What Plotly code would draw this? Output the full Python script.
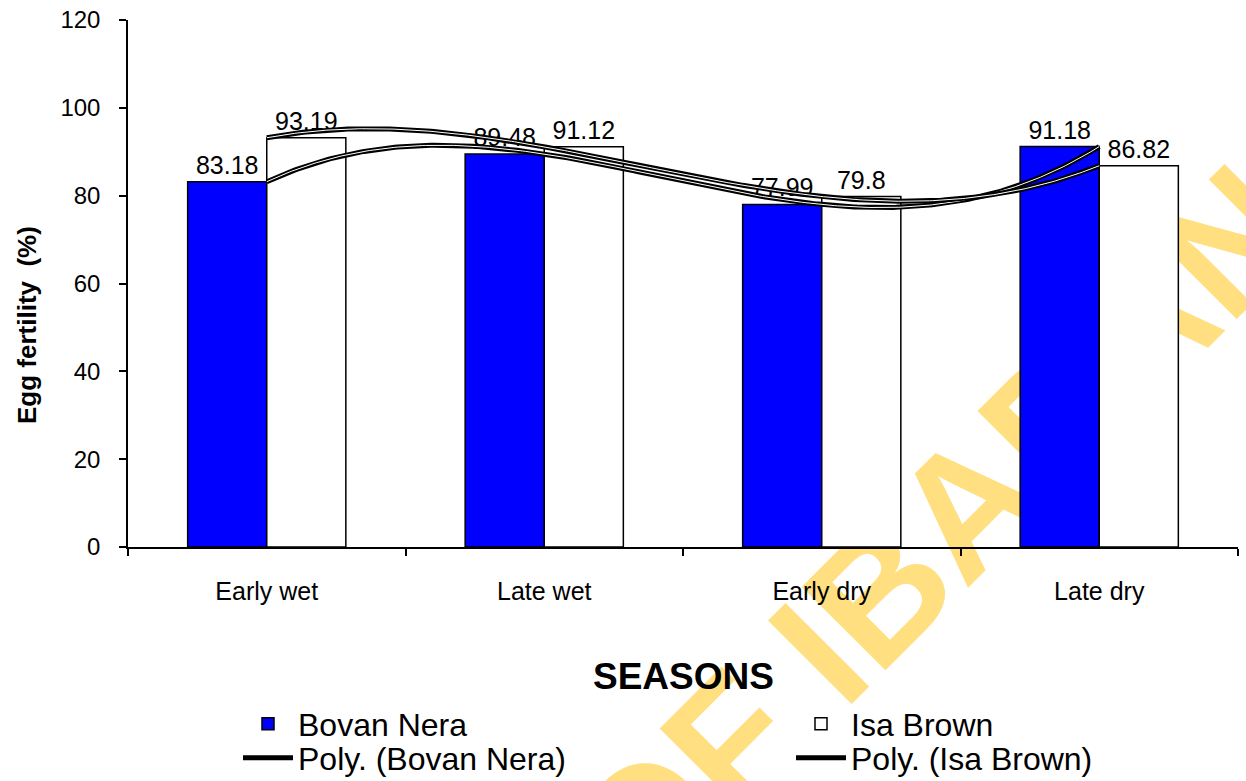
import numpy as np
import plotly.graph_objects as go

categories = ["Early wet", "Late wet", "Early dry", "Late dry"]
bovan_nera = [83.18, 89.48, 77.99, 91.18]
isa_brown = [93.19, 91.12, 79.8, 86.82]
y_ticks = [0, 20, 40, 60, 80, 100, 120]
watermark = "UNIVERSITY OF IBADAN"

FONT = "Liberation Sans, Arial, sans-serif"
pos = np.arange(len(categories))

fig = go.Figure()

fig.add_trace(go.Bar(
    x=pos, y=bovan_nera, name="Bovan Nera", legend="legend",
    marker=dict(color="#0000FF", line=dict(color="black", width=1.5)),
    text=[f"{v:g}" for v in bovan_nera], textposition="outside",
    textfont=dict(size=25, color="black", family=FONT), cliponaxis=False,
))
fig.add_trace(go.Bar(
    x=pos, y=isa_brown, name="Isa Brown", legend="legend",
    marker=dict(color="white", line=dict(color="black", width=1.5)),
    text=[f"{v:g}" for v in isa_brown], textposition="outside",
    textfont=dict(size=25, color="black", family=FONT), cliponaxis=False,
))

# polynomial (order 3) trendlines fitted to the series
t = np.linspace(pos[0], pos[-1], 300)
for name, vals in [("Poly. (Bovan Nera)", bovan_nera), ("Poly. (Isa Brown)", isa_brown)]:
    coef = np.polyfit(pos, vals, 3)
    yy = np.polyval(coef, t)
    fig.add_trace(go.Scatter(x=t, y=yy, mode="lines", name=name, legend="legend2",
                             line=dict(color="black", width=5), cliponaxis=False))
    fig.add_trace(go.Scatter(x=t, y=yy, mode="lines", showlegend=False, hoverinfo="skip",
                             line=dict(color="white", width=1), cliponaxis=False))

W, H = 1246, 781
L, T, R, B = 128, 20, 8, 234
pw, ph = W - L - R, H - T - B

def px(xs):
    return (xs - L) / pw

def py(ys):
    return (H - B - ys) / ph

legend_common = dict(orientation="h", xanchor="left", yanchor="middle",
                     font=dict(size=32, family=FONT), itemwidth=50, entrywidth=488,
                     entrywidthmode="pixels", bgcolor="rgba(0,0,0,0)")

wm_cx, wm_cy = 612, 975

fig.update_layout(
    width=W, height=H,
    margin=dict(l=L, r=R, t=T, b=B, autoexpand=False),
    paper_bgcolor="white", plot_bgcolor="white",
    barmode="group", bargap=0.43, bargroupgap=0,
    font=dict(family=FONT, color="black"),
    showlegend=True,
    legend=dict(x=px(238), y=py(724), **legend_common),
    legend2=dict(x=px(238), y=py(758), **legend_common),
    xaxis=dict(range=[-0.5, 3.5], tickvals=list(pos), ticktext=categories, ticks="",
               tickfont=dict(size=25), ticklabelstandoff=21,
               showline=True, linecolor="black", linewidth=1.5, showgrid=False, zeroline=False,
               minor=dict(tickvals=[-0.5, 0.5, 1.5, 2.5, 3.5], ticks="outside", ticklen=7,
                          tickwidth=1.5, tickcolor="black", showgrid=False)),
    yaxis=dict(range=[0, 120], tickvals=y_ticks, ticks="outside", ticklen=7, tickwidth=1.5,
               tickcolor="black", tickfont=dict(size=24), ticklabelstandoff=14,
               ticklabeloverflow="allow",
               showline=True, linecolor="black", linewidth=1.5, showgrid=False, zeroline=False),
    annotations=[
        dict(text="<b>SEASONS</b>", x=px(683), y=py(676), xref="paper", yref="paper",
             showarrow=False, font=dict(size=37, family=FONT), xanchor="center", yanchor="middle"),
        dict(text="<b>Egg fertility  (%)</b>", x=px(27), y=py(325), xref="paper", yref="paper",
             showarrow=False, textangle=-90, font=dict(size=26, family=FONT),
             xanchor="center", yanchor="middle"),
    ],
    shapes=[
        dict(type="line", xref="paper", yref="paper", layer="below",
             x0=px(wm_cx - 300), y0=py(wm_cy + 300), x1=px(wm_cx + 300), y1=py(wm_cy - 300),
             line=dict(width=0, color="rgba(0,0,0,0)"),
             label=dict(text="<b>" + watermark + "</b>", textposition="middle", textangle=-45,
                        font=dict(size=172, family=FONT, color="rgb(255,223,128)"))),
    ],
)

fig.write_html("out.html", config={"displayModeBar": False},
               post_script="document.body.style.margin='0px';document.body.style.overflow='hidden';")
